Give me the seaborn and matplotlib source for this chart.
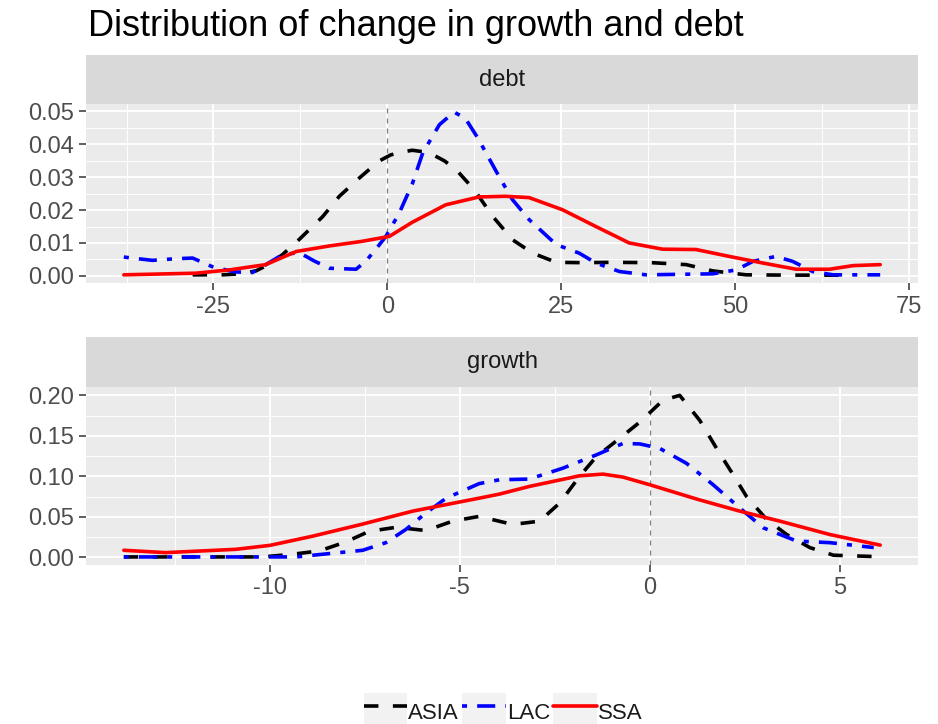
import numpy as np
import pandas as pd
import seaborn as sns
from matplotlib import pyplot as plt
from matplotlib.ticker import MultipleLocator, FormatStrFormatter
from matplotlib.lines import Line2D
from matplotlib.patches import Patch
from matplotlib.legend_handler import HandlerTuple

# Density curves (x, density)
regions = ['ASIA', 'LAC', 'SSA']
variables = ['debt', 'growth']

debtAsiaX = [-28.0, -23.7, -21.0, -18.9, -17.0, -15.1, -12.7, -9.3, -6.9, -4.0, -1.2, 0.5, 2.2, 3.6,
             5.0, 6.5, 8.2, 9.9, 12.5, 15.2, 18.0, 20.9, 24.3, 28.0, 32.4, 38.0, 43.0, 46.8, 51.6, 58.0, 65.0]
debtAsiaY = [0.0003, 0.0003, 0.0006, 0.0015, 0.0035, 0.0064, 0.0110, 0.0180, 0.0242, 0.0298, 0.0349, 0.0368,
             0.0377, 0.0382, 0.0378, 0.0369, 0.0350, 0.0323, 0.0262, 0.0180, 0.0110, 0.0069, 0.0041, 0.0040,
             0.0041, 0.0040, 0.0034, 0.0015, 0.0003, 0.0002, 0.0002]

debtLacX = [-37.9, -33.8, -30.5, -28.0, -25.2, -22.0, -19.4, -17.0, -15.1, -12.7, -10.5, -8.3, -4.5, -3.1,
            -1.5, -0.2, 1.7, 3.6, 5.1, 7.5, 9.6, 11.2, 13.0, 16.0, 18.0, 20.4, 24.3, 27.6, 30.0, 33.4, 37.2,
            46.8, 50.2, 52.6, 55.9, 58.3, 61.2, 64.1, 70.9]
debtLacY = [0.0057, 0.0047, 0.0052, 0.0054, 0.0028, 0.0012, 0.0010, 0.0040, 0.0064, 0.0071, 0.0045, 0.0023,
            0.0020, 0.0044, 0.0085, 0.0120, 0.0190, 0.0280, 0.0374, 0.0460, 0.0498, 0.0480, 0.0420, 0.0305,
            0.0232, 0.0171, 0.0095, 0.0069, 0.0039, 0.0013, 0.0003, 0.0006, 0.0018, 0.0044, 0.0059, 0.0044,
            0.0013, 0.0003, 0.0003]

debtSsaX = [-37.9, -27.5, -22.7, -17.5, -13.1, -8.3, -3.6, 0.3, 3.6, 8.4, 13.2, 17.0, 20.4, 25.2, 30.0,
            34.8, 39.6, 44.4, 49.2, 54.0, 58.8, 63.6, 67.0, 70.9]
debtSsaY = [0.0003, 0.0008, 0.0018, 0.0034, 0.0074, 0.0091, 0.0105, 0.0120, 0.0163, 0.0216, 0.0240, 0.0242,
            0.0238, 0.0201, 0.0150, 0.0100, 0.0081, 0.0080, 0.0059, 0.0039, 0.0020, 0.0020, 0.0031, 0.0034]

growthAsiaX = [-13.85, -10.2, -9.41, -8.7, -8.0, -7.39, -6.68, -5.89, -5.19, -4.49, -3.61, -2.90, -2.37,
               -1.85, -1.41, -0.79, -0.26, 0.35, 0.79, 1.32, 1.76, 2.20, 2.55, 3.08, 3.61, 4.22, 4.84, 5.85]
growthAsiaY = [0.0004, 0.0004, 0.0037, 0.0078, 0.019, 0.032, 0.037, 0.033, 0.0446, 0.0505, 0.0405, 0.0446,
               0.067, 0.0998, 0.124, 0.147, 0.167, 0.194, 0.200, 0.169, 0.1346, 0.1018, 0.075, 0.0466, 0.028,
               0.0119, 0.0025, 0.001]

growthLacX = [-13.85, -9.32, -8.44, -7.56, -6.95, -6.42, -5.89, -5.36, -4.49, -3.96, -3.17, -2.29, -1.41,
              -0.70, -0.26, 0.26, 0.97, 1.67, 2.37, 2.99, 3.87, 4.75, 5.9]
growthLacY = [0.0004, 0.0004, 0.0045, 0.0086, 0.018, 0.0344, 0.0548, 0.073, 0.091, 0.0957, 0.0966, 0.110,
              0.1264, 0.1407, 0.140, 0.1346, 0.116, 0.0896, 0.061, 0.0364, 0.020, 0.018, 0.012]

growthSsaX = [-13.85, -12.75, -10.9, -10.0, -8.88, -7.56, -6.24, -4.93, -4.49, -3.96, -3.17, -1.85, -1.23,
              -0.70, 0.0, 1.23, 2.37, 3.43, 4.75, 6.07]
growthSsaY = [0.0086, 0.0057, 0.0098, 0.0147, 0.026, 0.041, 0.057, 0.069, 0.073, 0.078, 0.0875, 0.1006,
              0.1027, 0.099, 0.0896, 0.072, 0.057, 0.0446, 0.028, 0.015]

curves = {
    ('debt', 'ASIA'): (debtAsiaX, debtAsiaY),
    ('debt', 'LAC'): (debtLacX, debtLacY),
    ('debt', 'SSA'): (debtSsaX, debtSsaY),
    ('growth', 'ASIA'): (growthAsiaX, growthAsiaY),
    ('growth', 'LAC'): (growthLacX, growthLacY),
    ('growth', 'SSA'): (growthSsaX, growthSsaY),
}
frames = []
for (var, reg), (xs, ys) in curves.items():
    frames.append(pd.DataFrame({'variable': var, 'region': reg, 'value': xs, 'density': ys}))
df = pd.concat(frames, ignore_index=True)

palette = {'ASIA': 'black', 'LAC': 'blue', 'SSA': 'red'}
dashDict = {'ASIA': (4, 4), 'LAC': (1.4, 2.8, 5, 2.8), 'SSA': ''}
lineWidth = 2.6

sns.set_theme(style='darkgrid')
plt.rcParams['font.family'] = ['Liberation Sans', 'DejaVu Sans']
plt.rcParams['axes.unicode_minus'] = False

W, H = 938, 724
fig = plt.figure(figsize=(W / 100, H / 100), dpi=100)

# panel boxes in pixels: (left, top, right, bottom), strip top
panels = {
    'debt': dict(box=(86, 104, 918, 283.3), stripTop=55, major=(25, 0.01), minor=(12.5, 0.005)),
    'growth': dict(box=(86, 387.3, 918, 565), stripTop=337.3, major=(5, 0.05), minor=(2.5, 0.025)),
}

for var in variables:
    p = panels[var]
    l, t, r, b = p['box']
    ax = fig.add_axes([l / W, 1 - b / H, (r - l) / W, (b - t) / H])
    sub = df[df['variable'] == var]
    sns.lineplot(data=sub, x='value', y='density', hue='region', style='region', palette=palette,
                 dashes=dashDict, estimator=None, linewidth=lineWidth, legend=False, ax=ax, zorder=3)
    ax.axvline(0, color='#7F7F7F', linewidth=0.9, linestyle=(0, (4, 4)), zorder=2)

    xmin, xmax = sub['value'].min(), sub['value'].max()
    ymin, ymax = sub['density'].min(), sub['density'].max()
    ax.set_xlim(xmin - 0.05 * (xmax - xmin), xmax + 0.05 * (xmax - xmin))
    ax.set_ylim(ymin - 0.05 * (ymax - ymin), ymax + 0.05 * (ymax - ymin))

    ax.set_facecolor('#EBEBEB')
    ax.xaxis.set_major_locator(MultipleLocator(p['major'][0]))
    ax.yaxis.set_major_locator(MultipleLocator(p['major'][1]))
    ax.xaxis.set_minor_locator(MultipleLocator(p['minor'][0]))
    ax.yaxis.set_minor_locator(MultipleLocator(p['minor'][1]))
    ax.yaxis.set_major_formatter(FormatStrFormatter('%.2f'))
    ax.xaxis.set_major_formatter(FormatStrFormatter('%d'))
    ax.grid(which='major', color='white', linewidth=1.3)
    ax.grid(which='minor', color='white', linewidth=0.7)
    ax.set_axisbelow(True)
    for s in ax.spines.values():
        s.set_visible(False)
    ax.tick_params(which='major', length=5, width=1.1, color='#333333', labelcolor='#4D4D4D',
                   labelsize=17, pad=4, bottom=True, left=True)
    ax.tick_params(which='minor', length=0)
    ax.set_xlabel('')
    ax.set_ylabel('')

    # facet strip
    st = p['stripTop']
    sax = fig.add_axes([l / W, 1 - t / H, (r - l) / W, (t - st) / H])
    sax.set_facecolor('#D9D9D9')
    sax.set_xticks([])
    sax.set_yticks([])
    for s in sax.spines.values():
        s.set_visible(False)
    sax.text(0.5, 0.5, var, ha='center', va='center', fontsize=17, color='#1A1A1A', transform=sax.transAxes)

fig.text(88 / W, 1 - 36 / H, 'Distribution of change in growth and debt', fontsize=26, color='black',
         ha='left', va='baseline')

handles = []
for reg in regions:
    ls = '-' if dashDict[reg] == '' else (0, dashDict[reg])
    handles.append((Patch(facecolor='#F2F2F2', edgecolor='none'),
                    Line2D([], [], color=palette[reg], linewidth=lineWidth, linestyle=ls)))
fig.legend(handles=handles, labels=regions, handler_map={tuple: HandlerTuple(ndivide=1, pad=0)},
           loc='center', bbox_to_anchor=(503 / W, 1 - 712 / H), ncol=3, frameon=False, fontsize=16,
           handlelength=1.95, handleheight=2.2, handletextpad=0.05, columnspacing=0.15,
           borderpad=0, borderaxespad=0, labelcolor='#1A1A1A')

fig.savefig('out.png', dpi=100)
